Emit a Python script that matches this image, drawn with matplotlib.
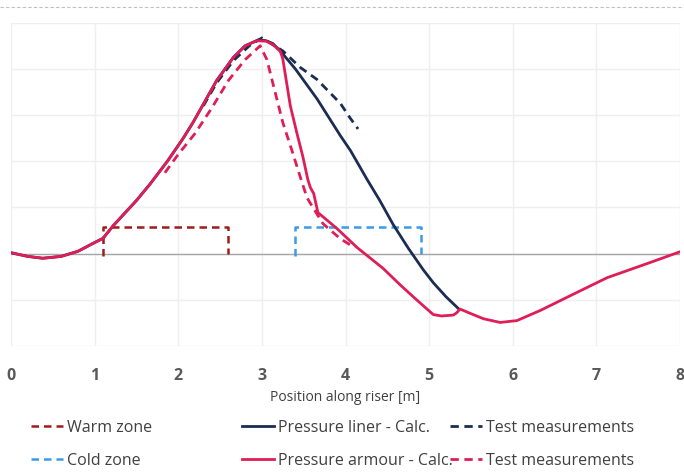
import matplotlib
matplotlib.use("Agg")
import matplotlib.pyplot as plt
from matplotlib.lines import Line2D

plt.rcParams['font.family'] = ['Open Sans', 'DejaVu Sans']

# Daten (x = Position [m], y = relative Einheit)
armour_calc_x = [0.0, 0.2, 0.38, 0.6, 0.8, 1.0, 1.1, 1.22, 1.5, 1.66, 1.87, 2.06, 2.18, 2.46,
                 2.66, 2.8, 2.94, 3.05, 3.13, 3.22, 3.25, 3.34, 3.42, 3.49, 3.55, 3.58, 3.62,
                 3.67, 3.9, 4.14, 4.45, 4.65, 4.85, 5.05, 5.15, 5.29, 5.33, 5.37, 5.5, 5.65,
                 5.85, 6.05, 6.33, 6.7, 7.13, 7.6, 8.0]
armour_calc_y = [0.02, -0.06, -0.1, -0.06, 0.05, 0.24, 0.33, 0.6, 1.15, 1.5, 2.0, 2.5, 2.85, 3.75,
                 4.25, 4.5, 4.61, 4.6, 4.53, 4.38, 4.22, 3.2, 2.6, 2.1, 1.6, 1.43, 1.3,
                 0.89, 0.54, 0.13, -0.32, -0.67, -1.0, -1.32, -1.35, -1.33, -1.28, -1.2, -1.3, -1.41,
                 -1.49, -1.45, -1.23, -0.9, -0.52, -0.22, 0.04]

liner_calc_x = [0.0, 0.2, 0.38, 0.6, 0.8, 1.0, 1.1, 1.22, 1.5, 1.66, 1.87, 2.06, 2.18, 2.46,
                2.66, 2.8, 2.96, 3.05, 3.13, 3.22, 3.4, 3.66, 3.94, 4.06, 4.26, 4.41, 4.57,
                4.75, 4.93, 5.05, 5.2, 5.35]
liner_calc_y = [0.02, -0.06, -0.1, -0.06, 0.05, 0.24, 0.33, 0.6, 1.15, 1.5, 2.0, 2.5, 2.85, 3.75,
                4.25, 4.5, 4.63, 4.61, 4.55, 4.39, 4.0, 3.35, 2.55, 2.23, 1.6, 1.15, 0.63,
                0.12, -0.35, -0.63, -0.93, -1.19]

liner_test_x = [2.3, 2.46, 2.66, 2.85, 3.0, 3.25, 3.46, 3.66, 3.94, 4.05, 4.15]
liner_test_y = [3.2, 3.7, 4.18, 4.5, 4.67, 4.39, 4.03, 3.77, 3.25, 2.95, 2.7]

armour_test_x = [1.84, 2.0, 2.2, 2.4, 2.6, 2.8, 2.98, 3.06, 3.25, 3.36, 3.48, 3.54, 3.61, 3.73,
                 3.94, 4.11]
armour_test_y = [1.75, 2.15, 2.6, 3.15, 3.75, 4.2, 4.5, 4.2, 2.84, 2.23, 1.54, 1.21, 1.0, 0.65,
                 0.32, 0.13]

warm_x = [1.1, 1.1, 2.6, 2.6]
warm_y = [-0.05, 0.58, 0.58, 0.0]
cold_x = [3.4, 3.4, 4.9, 4.9]
cold_y = [-0.05, 0.58, 0.58, 0.0]

c_pink = '#DF1D57'
c_navy = '#1B2D52'
c_warm = '#A01B1B'
c_cold = '#3A9BE8'

fig = plt.figure(figsize=(6.84, 4.76), dpi=100)
ax = fig.add_axes([11/684, 1 - 346/476, 669/684, (346 - 22.7)/476])

ax.set_xlim(0, 8)
ax.set_ylim(-2, 5)
ax.set_xticks(range(0, 9))
ax.set_yticks(range(-2, 6))
ax.set_yticklabels([])
ax.grid(True, color='#EFEFEF', lw=1.0)
ax.set_axisbelow(True)
for s in ax.spines.values():
    s.set_visible(False)
ax.tick_params(length=0, pad=16, labelsize=11.5, labelcolor='#595959')
for t in ax.get_xticklabels():
    t.set_fontweight('bold')
ax.axhline(0, color='#A6A6A6', lw=1.0, zorder=1)

ax.set_xlabel('Position along riser [m]', fontsize=10, color='#404040', labelpad=4)

l_warm, = ax.plot(warm_x, warm_y, color=c_warm, lw=1.8, ls=(0, (3, 2)))
l_cold, = ax.plot(cold_x, cold_y, color=c_cold, lw=1.8, ls=(0, (3, 2)))
l_liner, = ax.plot(liner_calc_x, liner_calc_y, color=c_navy, lw=2.0)
l_liner_t, = ax.plot(liner_test_x, liner_test_y, color=c_navy, lw=2.0, ls=(0, (3, 2)))
l_arm, = ax.plot(armour_calc_x, armour_calc_y, color=c_pink, lw=2.0)
l_arm_t, = ax.plot(armour_test_x, armour_test_y, color=c_pink, lw=2.0, ls=(0, (3, 2)))

leg_kw = dict(loc='upper left', frameon=False, fontsize=11.5, handlelength=2.0,
              handletextpad=0.25, labelspacing=1.05, borderaxespad=0, borderpad=0)
columns = [
    ([l_warm, l_cold], ['Warm zone', 'Cold zone'], 31/684),
    ([l_liner, l_arm], ['Pressure liner - Calc.', 'Pressure armour - Calc.'], 242/684),
    ([l_liner_t, l_arm_t], ['Test measurements', 'Test measurements'], 450/684),
]
for handles, labels, x0 in columns:
    lg = fig.legend(handles, labels, bbox_to_anchor=(x0, 1 - 420/476), **leg_kw)
    for t in lg.get_texts():
        t.set_color('#404040')

# gestrichelte Linie am oberen Rand
fig.add_artist(Line2D([0, 1], [1 - 7/476, 1 - 7/476], transform=fig.transFigure,
                      color='#BFBFBF', lw=0.8, ls=(0, (3, 2))))

fig.savefig('out.png', dpi=100)
